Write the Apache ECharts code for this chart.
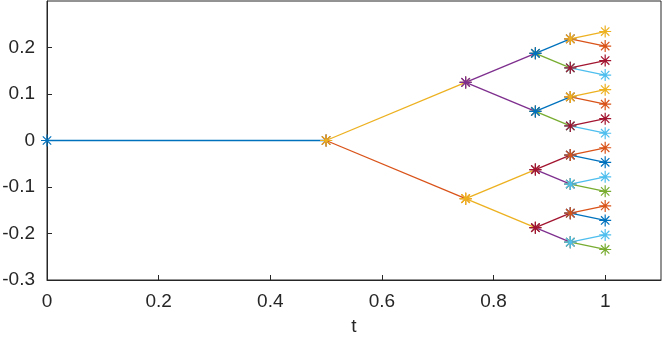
<!DOCTYPE html>
<html>
<head>
<meta charset="utf-8">
<script src="https://cdn.jsdelivr.net/npm/echarts@6/dist/echarts.min.js"></script>
<style>
  html, body { margin: 0; padding: 0; background: #fff; }
  #chart { width: 664px; height: 337px; }
</style>
</head>
<body>
<div id="chart"></div>
<script>
// t position of each tree level
var levelT = [0, 0.5, 0.75, 0.875, 0.9375, 1];
// node values of each level
var levelY = [
  [0],
  [0],
  [0.125, -0.125],
  [0.1875, 0.0625, -0.0625, -0.1875],
  [0.21875, 0.15625, 0.09375, 0.03125, -0.03125, -0.09375, -0.15625, -0.21875],
  [0.234375, 0.203125, 0.171875, 0.140625, 0.109375, 0.078125, 0.046875, 0.015625,
   -0.015625, -0.046875, -0.078125, -0.109375, -0.140625, -0.171875, -0.203125, -0.234375]
];
// colour of the branch going up / down from each parent node, per level
var upColors = [
  ['blue'],
  ['yellow'],
  ['purple', 'yellow'],
  ['blue', 'blue', 'darkred', 'darkred'],
  ['yellow', 'darkred', 'yellow', 'darkred', 'orange', 'lightblue', 'orange', 'lightblue']
];
var downColors = [
  [],
  ['orange'],
  ['purple', 'yellow'],
  ['green', 'green', 'purple', 'purple'],
  ['orange', 'lightblue', 'orange', 'lightblue', 'blue', 'green', 'blue', 'green']
];
var xTicks = [0, 0.2, 0.4, 0.6, 0.8, 1];
var yTicks = [-0.3, -0.2, -0.1, 0, 0.1, 0.2];

var palette = {
  blue: '#0072BD', orange: '#D95319', yellow: '#EDB120', purple: '#7E2F8E',
  green: '#77AC30', lightblue: '#4DBEEE', darkred: '#A2142F'
};
var star = 'path://M0,-1L0,1M-1,0L1,0M-0.7,-0.7L0.7,0.7M-0.7,0.7L0.7,-0.7';

function seg(p, c, col) {
  return {
    type: 'line',
    data: [p, c],
    symbol: star,
    symbolSize: 12,
    showSymbol: true,
    animation: false,
    silent: true,
    lineStyle: { color: palette[col], width: 1.3 },
    itemStyle: { color: palette[col], borderColor: palette[col], borderWidth: 1.2 }
  };
}

var series = [];
// first stretch is a single flat branch
series.push(seg([levelT[0], levelY[0][0]], [levelT[1], levelY[1][0]], upColors[0][0]));
for (var k = 1; k < levelT.length - 1; k++) {
  var kids = levelY[k + 1];
  var step = kids.length / levelY[k].length;
  for (var i = 0; i < levelY[k].length; i++) {
    var p = [levelT[k], levelY[k][i]];
    var up = kids[i * step], down = kids[i * step + 1];
    series.push(seg(p, [levelT[k + 1], down], downColors[k][i]));
    series.push(seg(p, [levelT[k + 1], up], upColors[k][i]));
  }
}

var txt = { color: '#262626', fontSize: 19, fontFamily: 'Liberation Sans, Arial, sans-serif' };
var axisCol = '#262626';

var myChart = echarts.init(document.getElementById('chart'));
myChart.setOption({
  backgroundColor: '#fff',
  animation: false,
  grid: { left: 47, right: 3, top: 1, bottom: 57, outerBoundsMode: 'none', containLabel: false,
    show: true, borderColor: axisCol, borderWidth: 1, backgroundColor: 'transparent' },
  xAxis: {
    type: 'value', min: 0, max: 1.1, interval: 0.2,
    name: 't', nameLocation: 'middle', nameGap: 37,
    nameTextStyle: txt,
    axisLine: { show: true, onZero: false, lineStyle: { color: axisCol } },
    axisTick: { show: true, inside: true, length: 5, lineStyle: { color: axisCol } },
    splitLine: { show: false },
    axisLabel: Object.assign({ margin: 12, showMaxLabel: false,
      formatter: function (v) { var r = +v.toFixed(2); return xTicks.indexOf(r) >= 0 ? String(r) : ''; } }, txt)
  },
  yAxis: {
    type: 'value', min: -0.3, max: 0.3, interval: 0.1,
    axisLine: { show: true, onZero: false, lineStyle: { color: axisCol } },
    axisTick: { show: true, inside: true, length: 5, lineStyle: { color: axisCol } },
    splitLine: { show: false },
    axisLabel: Object.assign({ margin: 12, showMaxLabel: false, padding: [5, 0, 0, 0],
      formatter: function (v) { var r = +v.toFixed(2); return yTicks.indexOf(r) >= 0 ? String(r) : ''; } }, txt)
  },
  series: series
});
window.addEventListener('resize', function () { myChart.resize(); });
</script>
</body>
</html>
